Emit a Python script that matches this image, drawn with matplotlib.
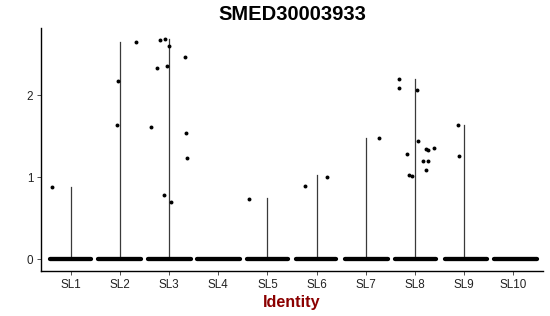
import matplotlib.pyplot as plt

groups = ["SL1", "SL2", "SL3", "SL4", "SL5", "SL6", "SL7", "SL8", "SL9", "SL10"]

# highest expression in each group (top of the violin)
vmax = [0.88, 2.65, 2.68, 0.0, 0.74, 1.02, 1.48, 2.20, 1.63, 0.0]

# cells with non-zero expression: (group index, jitter offset, value)
pts_group = [0,
             1, 1, 1,
             2, 2, 2, 2, 2, 2, 2, 2, 2, 2, 2,
             4,
             5, 5,
             6,
             7, 7, 7, 7, 7, 7, 7, 7, 7, 7, 7, 7, 7,
             8, 8]
pts_jit = [-0.37,
           -0.04, -0.06, 0.33,
           -0.18, -0.08, 0.0, 0.33, -0.24, -0.04, -0.37, 0.35, 0.37, -0.10, 0.04,
           -0.38,
           -0.24, 0.22,
           0.27,
           -0.33, -0.33, 0.04, 0.06, 0.22, 0.27, 0.39, -0.16, 0.16, 0.27, -0.12, -0.06, 0.22,
           -0.12, -0.10]
pts_val = [0.88,
           2.17, 1.63, 2.65,
           2.67, 2.68, 2.60, 2.46, 2.33, 2.35, 1.61, 1.54, 1.23, 0.78, 0.70,
           0.735,
           0.89, 1.00,
           1.48,
           2.20, 2.08, 2.06, 1.44, 1.34, 1.33, 1.35, 1.28, 1.20, 1.19, 1.03, 1.01, 1.08,
           1.63, 1.26]

# spread of the zero-expression cells (jitter extent) per group
zero_lo = [-0.42, -0.44, -0.42, -0.43, -0.41, -0.41, -0.42, -0.41, -0.39, -0.40]
zero_hi = [0.42, 0.43, 0.44, 0.44, 0.42, 0.40, 0.46, 0.43, 0.46, 0.47]

plt.rcParams['font.family'] = ['Liberation Sans', 'DejaVu Sans']

fig = plt.figure(figsize=(5.5, 3.16), dpi=100)
ax = fig.add_axes([41 / 550, 45 / 316, 502 / 550, 243 / 316])

xs = list(range(1, len(groups) + 1))

# violins collapse to thin lines
for x, top in zip(xs, vmax):
    if top > 0:
        ax.plot([x, x], [0, top], color='#3a3a3a', lw=0.9, zorder=2)

# dense band of zero cells
for x, lo, hi in zip(xs, zero_lo, zero_hi):
    ax.plot([x + lo, x + hi], [0, 0], color='black', lw=3.1,
            solid_capstyle='round', zorder=3)

px = [xs[g] + j for g, j in zip(pts_group, pts_jit)]
ax.scatter(px, pts_val, s=8, color='black', linewidths=0, zorder=4)

ax.set_xlim(0.4, 10.6)
ax.set_ylim(-0.146, 2.817)
ax.set_xticks(xs)
ax.set_xticklabels(groups)
ax.set_yticks([0, 1, 2])
ax.set_yticklabels(['0', '1', '2'])

for side in ['top', 'right']:
    ax.spines[side].set_visible(False)
for side in ['left', 'bottom']:
    ax.spines[side].set_linewidth(1.0)
    ax.spines[side].set_color('black')
ax.tick_params(axis='both', length=3, width=0.6, color='#333333',
               labelsize=8.4, labelcolor='#222222', pad=2.5)

ax.set_title('SMED30003933', fontsize=14.5, fontweight='bold', pad=5.5)
ax.set_xlabel('Identity', fontsize=11.6, fontweight='bold', color='#8B0000',
              labelpad=3)

fig.savefig('out.png', dpi=100)
